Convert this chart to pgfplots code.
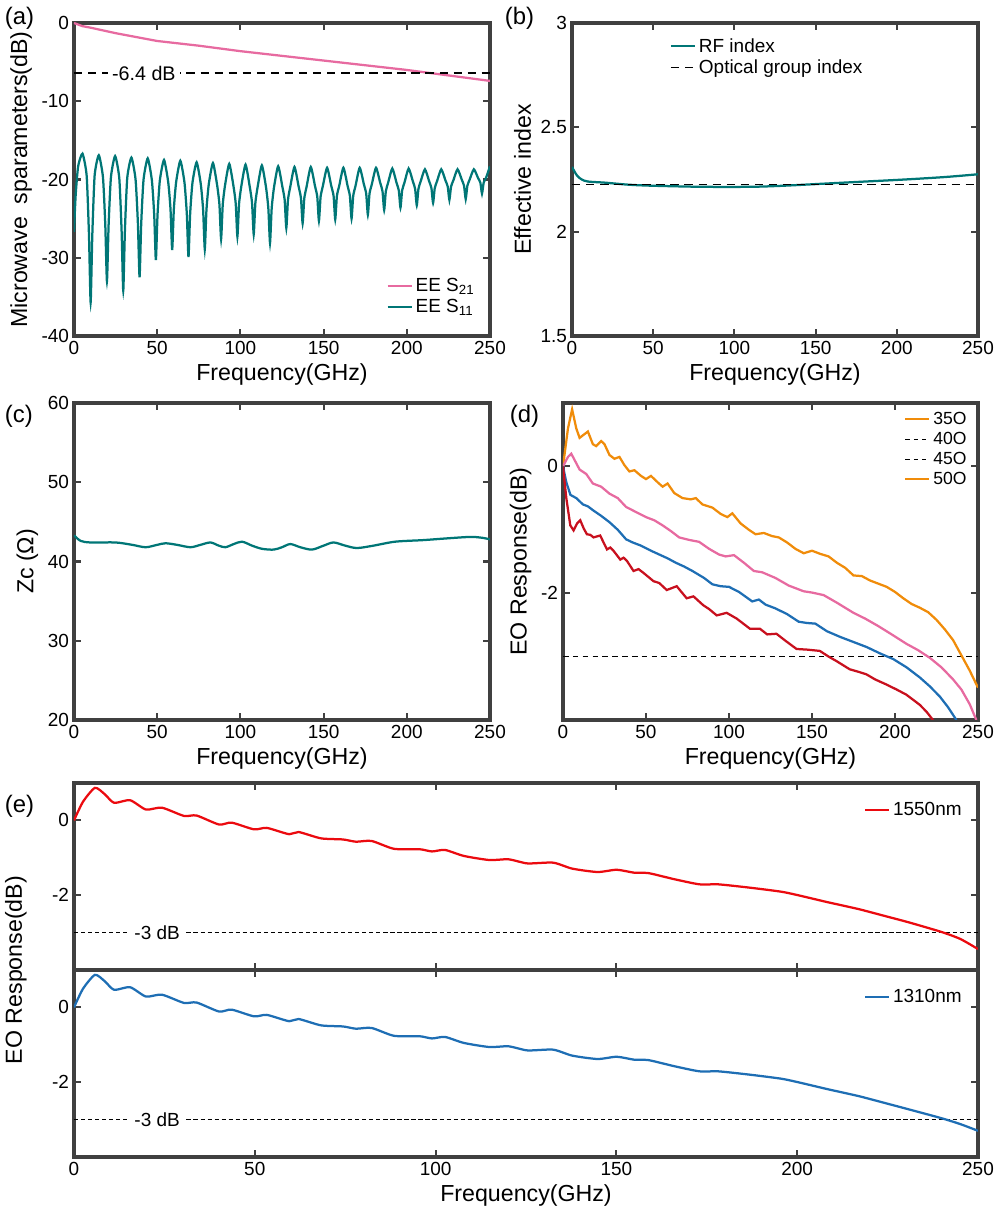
\documentclass[border=0pt]{standalone}
\usepackage{pgfplots}
\pgfplotsset{compat=1.18}
\usepackage{fontspec}
\setmainfont{Liberation Sans}
\definecolor{cpink}{RGB}{231,106,160}
\definecolor{cteal}{RGB}{0,118,118}
\definecolor{corange}{RGB}{240,140,10}
\definecolor{cblue}{RGB}{30,110,180}
\definecolor{cred}{RGB}{200,16,30}
\definecolor{cbred}{RGB}{235,10,15}
\def\pxu{0.25mm}
\pgfplotsset{panel/.style={scale only axis, anchor=south west,
  axis line style={line width=2.4pt, black!75}, tick style={line width=1.5pt, black!75},
  tick align=inside, major tick length=5pt, xmin=0, xmax=250, xtick={0,50,...,250},
  tick label style={font=\fontsize{13.5}{13.5}\selectfont},
  label style={font=\fontsize{16.5}{16.5}\selectfont},
  /pgf/number format/assume math mode=true,
  every axis plot/.append style={line width=1.6pt},
  legend style={draw=none, fill=none, font=\fontsize{13.5}{16}\selectfont},
  legend cell align=left}}
\begin{document}
\begin{tikzpicture}
\useasboundingbox (0,0) rectangle (250mm,-303.75mm);
% (a)
\begin{axis}[panel, at={(74*\pxu,-336*\pxu)}, width=416*\pxu, height=313*\pxu,
  ymin=-40, ymax=0, ytick={-40,-30,...,0},
  xlabel={Frequency(GHz)}, ylabel={Microwave\ \ sparameters(dB)},
  legend style={at={(0.98,0.05)}, anchor=south east}]
\addplot[cpink] coordinates {(0,0) (5,-0.4) (10,-0.6) (25,-1.3) (50,-2.3) (75,-2.9) (100,-3.6) (125,-4.2) (150,-4.8) (175,-5.4) (200,-6.0) (225,-6.7) (250,-7.4)};
\addlegendentry{EE S\textsubscript{21}}
\addplot[cteal, smooth, tension=0.35] table {
0 -26.7
1 -22
2.5 -18.3
5.1 -16.7
7.6 -19.5
9 -27.1
10 -35.7
11 -27.1
12.4 -19.5
14.9 -16.9
17.4 -19.7
18.8 -25.8
19.8 -33
20.8 -25.8
22.2 -19.7
24.7 -17
27.2 -19.8
28.6 -26.5
29.6 -34.2
30.6 -26.5
32 -19.8
34.5 -17.2
37 -20
38.4 -25.6
39.4 -32.5
40.4 -25.6
41.8 -20
44.3 -17.3
46.8 -20.1
48.2 -24.5
49.2 -30.3
50.2 -24.5
51.6 -20.1
54.1 -17.5
56.6 -20.3
58 -23.8
59 -29
60 -23.8
61.4 -20.3
63.9 -17.6
66.4 -20.4
67.8 -24.4
68.8 -29.9
69.8 -24.4
71.2 -20.4
73.7 -17.8
76.2 -20.6
77.6 -23.9
78.6 -28.9
79.6 -23.9
81 -20.6
83.5 -17.9
86 -20.7
87.4 -23.2
88.4 -27.6
89.4 -23.2
90.8 -20.7
93.3 -18
95.8 -20.8
97.2 -23.1
98.2 -27.3
99.2 -23.1
100.6 -20.8
103.1 -18.1
105.6 -20.9
107 -23
108 -27
109 -23
110.4 -20.9
112.9 -18.2
115.4 -21
116.8 -23.7
117.8 -28.1
118.8 -23.7
120.2 -21
122.7 -18.3
125.2 -20.9
126.6 -22.6
127.6 -26.2
128.6 -22.6
130 -20.9
132.5 -18.4
135 -20.9
136.4 -22.4
137.4 -25.6
138.4 -22.4
139.8 -20.9
142.3 -18.4
144.8 -20.8
146.2 -22.2
147.2 -25.3
148.2 -22.2
149.6 -20.8
152.1 -18.5
154.6 -20.8
156 -22.1
157 -25.1
158 -22.1
159.4 -20.8
161.9 -18.5
164.4 -20.8
165.8 -22.1
166.8 -25
167.8 -22.1
169.2 -20.8
171.7 -18.5
174.2 -20.6
175.6 -21.8
176.6 -24.5
177.6 -21.8
179 -20.6
181.5 -18.5
184 -20.4
185.4 -21.5
186.4 -23.9
187.4 -21.5
188.8 -20.4
191.3 -18.6
193.8 -20.4
195.2 -21.4
196.2 -23.6
197.2 -21.4
198.6 -20.4
201.1 -18.6
203.6 -20.2
205 -21.2
206 -23.3
207 -21.2
208.4 -20.2
210.9 -18.7
213.4 -20.2
214.8 -21.1
215.8 -23
216.8 -21.1
218.2 -20.2
220.7 -18.7
223.2 -20.1
224.6 -20.9
225.6 -22.6
226.6 -20.9
228 -20.1
230.5 -18.7
233 -20
234.4 -20.8
235.4 -22.5
236.4 -20.8
237.8 -20
240.3 -18.7
242.8 -19.8
244.2 -20.4
245.2 -21.8
246.2 -20.4
247.6 -19.8
250 -18.3
};
\addlegendentry{EE S\textsubscript{11}}
\addplot[black, line width=0.9pt, dash pattern=on 6pt off 4pt, forget plot] coordinates {(0,-6.4) (250,-6.4)};
\node[fill=white, font=\fontsize{14}{14}\selectfont, inner sep=3pt] at (axis cs:42,-6.4) {-6.4 dB};
\end{axis}
% (b)
\begin{axis}[panel, at={(572*\pxu,-336*\pxu)}, width=406*\pxu, height=313*\pxu,
  ymin=1.5, ymax=3, ytick={1.5,2,2.5,3},
  xlabel={Frequency(GHz)}, ylabel={Effective index},
  legend style={at={(0.23,0.97)}, anchor=north west}]
\addplot[cteal, smooth] coordinates {(0,2.31) (3,2.27) (6,2.25) (10,2.24) (20,2.235) (35,2.225) (50,2.22) (80,2.215) (110,2.215) (130,2.22) (155,2.23) (180,2.24) (205,2.25) (230,2.262) (250,2.275)};
\addlegendentry{RF index}
\addplot[black, line width=1pt, dash pattern=on 6pt off 4pt] coordinates {(0,2.225) (250,2.225)};
\addlegendentry{Optical group index}
\end{axis}
% (c)
\begin{axis}[panel, at={(74*\pxu,-720*\pxu)}, width=416*\pxu, height=317*\pxu,
  ymin=20, ymax=60, ytick={20,30,...,60},
  xlabel={Frequency(GHz)}, ylabel={Zc (Ω)}]
\addplot[cteal, smooth] coordinates {(0,43.3) (4,42.6) (10,42.4) (25,42.4) (35,42.1) (43,41.8) (50,42.1) (55,42.3) (62,42.1) (70,41.8) (76,42.1) (82,42.4) (87,42.0) (91,41.8) (96,42.2) (101,42.5) (107,42.0) (113,41.6) (120,41.5) (125,41.8) (130,42.2) (136,41.8) (143,41.5) (150,42.0) (156,42.4) (163,42.0) (170,41.7) (180,42.0) (193,42.5) (210,42.7) (223,42.9) (238,43.1) (245,43.0) (250,42.8)};
\end{axis}
% (d)
\begin{axis}[panel, at={(563*\pxu,-720*\pxu)}, width=415*\pxu, height=317*\pxu,
  ymin=-4, ymax=1, ytick={-2,0},
  xlabel={Frequency(GHz)}, ylabel={EO Response(dB)},
  legend style={at={(0.99,0.99)}, anchor=north east, font=\fontsize{12.5}{15}\selectfont}]
\addlegendimage{corange, line width=1.6pt}\addlegendentry{35O}
\addlegendimage{black, dashed, line width=0.9pt}\addlegendentry{40O}
\addlegendimage{black, dashed, line width=0.9pt}\addlegendentry{45O}
\addlegendimage{corange, line width=1.6pt}\addlegendentry{50O}
\addplot[black, line width=1pt, dash pattern=on 4pt off 3pt, forget plot] coordinates {(0,-3) (250,-3)};
\addplot[corange, forget plot] coordinates {(0,0) (3,0.6) (5.5,0.9) (8,0.6) (10,0.45) (12.5,0.5) (15,0.55) (18,0.35) (20,0.32) (23,0.4) (25,0.35) (28,0.18) (31,0.12) (34,0.15) (37,0.02) (40,-0.08) (43,-0.06) (47,-0.15) (50,-0.2) (53,-0.15) (57,-0.25) (60,-0.32) (63,-0.27) (67,-0.42) (72,-0.5) (77,-0.52) (80,-0.5) (84,-0.6) (90,-0.65) (95,-0.75) (99,-0.8) (102,-0.74) (107,-0.9) (112,-1.0) (116,-1.07) (121,-1.05) (126,-1.1) (130,-1.12) (135,-1.2) (140,-1.3) (145,-1.37) (150,-1.33) (155,-1.38) (160,-1.42) (165,-1.52) (170,-1.6) (175,-1.72) (180,-1.73) (185,-1.8) (190,-1.85) (195,-1.9) (200,-1.98) (205,-2.08) (210,-2.17) (215,-2.23) (220,-2.3) (225,-2.42) (230,-2.57) (235,-2.74) (240,-2.98) (245,-3.22) (250,-3.49)};
\addplot[cpink, forget plot] coordinates {(0,0) (3,0.15) (5,0.2) (8,0.05) (10,-0.05) (14,-0.12) (18,-0.27) (23,-0.32) (28,-0.43) (33,-0.5) (38,-0.64) (44,-0.72) (50,-0.8) (55,-0.85) (60,-0.93) (65,-1.02) (70,-1.12) (76,-1.16) (82,-1.19) (88,-1.3) (94,-1.39) (98,-1.42) (103,-1.4) (109,-1.52) (115,-1.65) (120,-1.67) (128,-1.76) (136,-1.88) (145,-1.97) (150,-1.99) (157,-2.03) (165,-2.15) (175,-2.31) (182,-2.4) (190,-2.52) (198,-2.65) (207,-2.8) (214,-2.9) (221,-3.02) (228,-3.17) (235,-3.36) (240,-3.52) (245,-3.75) (249,-4.0)};
\addplot[cblue, forget plot] coordinates {(0,0) (2,-0.25) (4.5,-0.45) (8,-0.5) (12,-0.6) (15,-0.63) (18,-0.69) (23,-0.78) (28,-0.88) (33,-1.0) (38,-1.15) (42,-1.2) (47,-1.25) (53,-1.33) (58,-1.39) (63,-1.45) (68,-1.52) (73,-1.58) (78,-1.65) (85,-1.76) (90,-1.86) (95,-1.89) (100,-1.9) (106,-1.98) (114,-2.13) (118,-2.1) (122,-2.18) (128,-2.24) (135,-2.33) (142,-2.45) (147,-2.47) (152,-2.48) (159,-2.6) (167,-2.69) (175,-2.77) (183,-2.85) (191,-2.95) (199,-3.04) (207,-3.17) (215,-3.33) (221,-3.47) (227,-3.63) (232,-3.8) (237,-4.0)};
\addplot[cred, forget plot] coordinates {(0,0) (2,-0.5) (4.4,-0.93) (6.4,-1.01) (8.5,-0.9) (10.4,-0.85) (12.5,-0.98) (14.4,-1.07) (16.5,-1.08) (18.4,-1.12) (22.4,-1.09) (26.5,-1.31) (28.5,-1.28) (30.4,-1.33) (34.5,-1.47) (36.5,-1.44) (38.5,-1.49) (42.5,-1.65) (45.5,-1.62) (48.5,-1.68) (54.5,-1.81) (58,-1.84) (62.5,-1.95) (68.5,-1.89) (74.5,-2.08) (78.6,-2.05) (84.5,-2.19) (88,-2.25) (92.6,-2.35) (98.6,-2.31) (104.6,-2.4) (112.6,-2.56) (118.6,-2.56) (123,-2.65) (128.6,-2.64) (134,-2.75) (140.7,-2.88) (147,-2.89) (154.7,-2.91) (160,-3.0) (164.7,-3.07) (172.7,-3.2) (178,-3.24) (182.8,-3.28) (188,-3.36) (194.8,-3.44) (201,-3.52) (206.8,-3.6) (214.9,-3.76) (219,-3.87) (222.9,-4.0)};
\end{axis}
% (e) top
\begin{axis}[panel, at={(74*\pxu,-970*\pxu)}, width=904*\pxu, height=187*\pxu,
  ymin=-4, ymax=1, ytick={-2,0}, xticklabels={},
  legend style={at={(0.99,0.93)}, anchor=north east}]
\addplot[black, line width=1pt, dash pattern=on 3pt off 2pt, forget plot] coordinates {(0,-3) (250,-3)};
\node[fill=white, font=\fontsize{13.5}{13.5}\selectfont, inner sep=3pt] at (axis cs:23,-3) {-3 dB};
\addplot[cbred, smooth, tension=0.4] coordinates {(0,0) (2.5,0.5) (5.8,0.87) (8.5,0.7) (11.1,0.47) (15.5,0.54) (19.9,0.29) (24.3,0.34) (30.4,0.12) (33.9,0.13) (40.1,-0.11) (43.6,-0.06) (49.8,-0.24) (53.3,-0.2) (59.5,-0.37) (62.1,-0.31) (68.3,-0.48) (74.4,-0.51) (78,-0.57) (82.3,-0.55) (88.5,-0.76) (95.5,-0.77) (99,-0.83) (102.6,-0.79) (107.8,-0.95) (114.9,-1.06) (120.2,-1.04) (125.4,-1.15) (132.5,-1.13) (137.8,-1.29) (144.8,-1.38) (150.1,-1.32) (155,-1.4) (158.9,-1.41) (165.9,-1.57) (173,-1.71) (178.2,-1.71) (187,-1.8) (195.8,-1.91) (201.1,-2.02) (208.1,-2.18) (216.9,-2.37) (224,-2.55) (231,-2.73) (239.8,-2.98) (245.1,-3.17) (250,-3.44)};
\addlegendentry{1550nm}
\end{axis}
% (e) bottom
\begin{axis}[panel, at={(74*\pxu,-1157*\pxu)}, width=904*\pxu, height=187*\pxu,
  ymin=-4, ymax=1, ytick={-2,0}, xlabel={Frequency(GHz)},
  legend style={at={(0.99,0.93)}, anchor=north east}]
\addplot[black, line width=1pt, dash pattern=on 3pt off 2pt, forget plot] coordinates {(0,-3) (250,-3)};
\node[fill=white, font=\fontsize{13.5}{13.5}\selectfont, inner sep=3pt] at (axis cs:23,-3) {-3 dB};
\addplot[cblue, smooth, tension=0.4] coordinates {(0,0) (2.5,0.5) (5.8,0.87) (8.5,0.7) (11.1,0.47) (15.5,0.54) (19.9,0.29) (24.3,0.34) (30.4,0.12) (33.9,0.13) (40.1,-0.11) (43.6,-0.06) (49.8,-0.24) (53.3,-0.2) (59.5,-0.37) (62.1,-0.31) (68.3,-0.48) (74.4,-0.51) (78,-0.57) (82.3,-0.55) (88.5,-0.76) (95.5,-0.77) (99,-0.83) (102.6,-0.79) (107.8,-0.95) (114.9,-1.06) (120.2,-1.04) (125.4,-1.15) (132.5,-1.13) (137.8,-1.29) (144.8,-1.38) (150.1,-1.32) (155,-1.4) (158.9,-1.41) (165.9,-1.57) (173,-1.71) (178.2,-1.71) (187,-1.8) (195.8,-1.91) (201.1,-2.02) (208.1,-2.18) (216.9,-2.37) (224,-2.55) (231,-2.73) (239.8,-2.96) (245.1,-3.12) (250,-3.3)};
\addlegendentry{1310nm}
\end{axis}
\node[font=\fontsize{16.5}{16.5}\selectfont, rotate=90] at (16*\pxu,-970*\pxu) {EO Response(dB)};
\node[font=\fontsize{17}{17}\selectfont, anchor=north west] at (0,-2*\pxu) {(a)};
\node[font=\fontsize{17}{17}\selectfont, anchor=north west] at (500*\pxu,-2*\pxu) {(b)};
\node[font=\fontsize{17}{17}\selectfont, anchor=north west] at (0,-400*\pxu) {(c)};
\node[font=\fontsize{17}{17}\selectfont, anchor=north west] at (505*\pxu,-400*\pxu) {(d)};
\node[font=\fontsize{17}{17}\selectfont, anchor=north west] at (0,-790*\pxu) {(e)};
\end{tikzpicture}
\end{document}
